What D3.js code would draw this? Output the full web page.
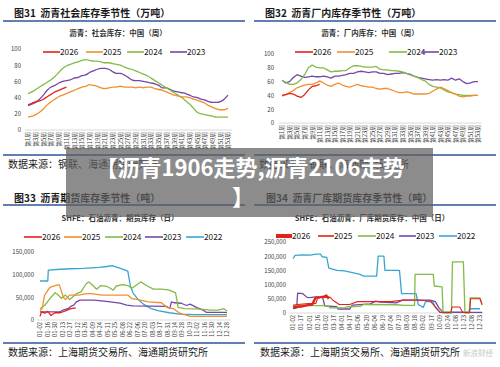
<!DOCTYPE html>
<html>
<head>
<meta charset="utf-8">
<script src="https://cdn.jsdelivr.net/npm/d3@7/dist/d3.min.js"></script>
<style>
    body { margin: 0; background: #fff; }
    text { font-family: "Noto Sans CJK SC", "Noto Sans", sans-serif; }
</style>
</head>
<body>
<script>
    // ---- DATA ----
    // 图31 社会库存（万吨），按周
    var socYears = ["2026", "2025", "2024", "2023"];
    var soc2026 = [31, 33, 35, 36, 38, 41, 44, 47, 49, 51, 53];
    var soc2025 = [16, 17, 19, 22, 26, 31, 35, 38, 41, 43, 45, 47, 49, 51, 53, 54, 56, 55, 54, 52, 51, 52, 53, 53, 54, 53, 53, 53, 52, 53, 52, 53, 53, 51, 50, 49, 47, 45, 43, 42, 41, 41, 40, 38, 37, 35, 33, 30, 28, 26, 25, 25, 27];
    var soc2024 = [45, 47, 50, 53, 56, 59, 62, 66, 71, 76, 79, 81, 83, 84, 86, 87, 86, 85, 85, 84, 83, 83, 82, 81, 80, 78, 76, 75, 73, 71, 69, 67, 64, 61, 58, 55, 52, 49, 46, 43, 40, 36, 32, 27, 22, 20, 19, 18, 17, 16, 16, 16, 16];
    var soc2023 = [30, 32, 34, 38, 43, 49, 53, 55, 58, 60, 61, 62, 64, 65, 67, 68, 71, 73, 75, 76, 76, 75, 72, 70, 70, 68, 65, 62, 61, 61, 60, 59, 58, 57, 55, 52, 52, 50, 48, 47, 46, 45, 43, 41, 40, 38, 37, 35, 34, 34, 35, 38, 43];

    // 图32 厂内库存（万吨），按周
    var pl2026 = [40, 41, 43, 42, 39, 37, 41, 48, 53, 54, 56];
    var pl2025 = [39, 41, 44, 47, 51, 53, 55, 56, 56, 58, 61, 58, 55, 53, 56, 58, 55, 53, 52, 54, 56, 54, 53, 52, 52, 50, 49, 50, 50, 48, 46, 44, 44, 45, 44, 42, 42, 42, 42, 43, 46, 49, 52, 50, 47, 44, 42, 39, 38, 39, 39, 40, 40];
    var pl2024 = [62, 59, 56, 56, 58, 63, 70, 80, 84, 81, 80, 80, 77, 74, 75, 75, 76, 76, 80, 83, 83, 82, 81, 81, 81, 82, 78, 77, 77, 76, 76, 75, 74, 72, 71, 68, 66, 63, 61, 56, 53, 52, 51, 48, 45, 44, 42, 41, 40, 40, 40, 40, 40];
    var pl2023 = [62, 58, 60, 66, 70, 68, 66, 67, 68, 67, 67, 68, 67, 65, 68, 68, 69, 70, 72, 72, 74, 75, 74, 73, 74, 74, 72, 72, 70, 71, 72, 72, 73, 72, 70, 68, 66, 65, 64, 63, 62, 63, 62, 63, 62, 65, 62, 64, 60, 57, 58, 60, 60];

    var weekLabels = ["第1周", "第3周", "第5周", "第7周", "第9周", "第11周", "第13周", "第15周", "第17周", "第19周", "第21周", "第23周", "第25周", "第27周",
        "第29周", "第31周", "第33周", "第35周", "第37周", "第39周", "第41周", "第43周", "第45周", "第47周", "第49周", "第51周", "第53周"];

    // 图33 期货库存（吨），[年内第几天, 值]
    var fut2026 = [[1, 8000], [4, 18000], [10, 15000], [16, 19000], [22, 10000], [30, 16000], [40, 16000], [50, 20000], [58, 24000], [65, 26000], [70, 26000]];
    var fut2025 = [[1, 20000], [5, 25000], [10, 55000], [20, 72000], [30, 76000], [38, 78000], [46, 50000], [50, 45000], [58, 55000], [75, 55000], [90, 58000], [100, 58000],
        [120, 55000], [140, 55000], [170, 55000], [178, 47000], [190, 45000], [210, 40000], [235, 38000], [245, 28000], [258, 25000], [270, 15000], [290, 8000], [361, 8000]];
    var fut2024 = [[1, 25000], [10, 32000], [20, 47000], [30, 60000], [36, 55000], [42, 48000], [50, 55000], [58, 45000], [65, 52000], [71, 58000], [80, 62000], [90, 80000],
        [95, 84000], [103, 76000], [110, 68000], [118, 76000], [130, 74000], [136, 70000], [142, 66000], [148, 75000], [160, 78000], [170, 76000], [178, 70000], [190, 80000],
        [195, 84000], [206, 76000], [219, 68000], [235, 68000], [250, 66000], [262, 60000], [267, 28000], [280, 25000], [310, 24000], [330, 22000], [345, 22000], [355, 25000], [361, 20000]];
    var fut2023 = [[1, 18000], [40, 18000], [45, 22000], [55, 25000], [60, 30000], [66, 33000], [71, 40000], [78, 44000], [105, 44000], [120, 42000], [136, 40000], [155, 37000],
        [168, 33000], [180, 31000], [244, 30000], [251, 26000], [254, 40000], [260, 38000], [273, 37000], [283, 32000], [290, 35000], [302, 28000], [315, 22000], [321, 17000], [361, 17000]];
    var fut2022 = [[1, 86000], [16, 86000], [17, 110000], [40, 112000], [60, 113000], [85, 114000], [100, 115000], [115, 116000], [130, 118000], [140, 120000], [150, 116000],
        [160, 112000], [170, 108000], [175, 75000], [180, 60000], [190, 45000], [200, 35000], [215, 25000], [230, 20000], [250, 16000], [270, 13000], [300, 12000], [361, 12000]];
    var futLabels = ["01-02", "01-16", "01-30", "02-13", "02-27", "03-12", "03-26", "04-09", "04-24", "05-11", "05-25", "06-08", "06-22", "07-06", "07-20", "08-03", "08-17",
        "08-31", "09-14", "09-28", "10-19", "11-02", "11-16", "11-30", "12-14", "12-28"];

    // 图34 厂库期货库存（吨）
    var fac2026 = [[1, 20000], [20, 24000], [30, 28000], [38, 30000], [42, 45000], [45, 55000], [55, 56000], [62, 58000], [65, 62000], [68, 55000], [70, 50000]];
    var fac2025 = [[1, 27000], [10, 30000], [30, 33000], [45, 34000], [48, 50000], [55, 56000], [72, 56000], [78, 45000], [90, 30000], [110, 30000], [125, 40000], [190, 40000],
        [214, 46000], [240, 46000], [265, 42000], [270, 32000], [284, 2000], [305, 2000], [307, 21000], [322, 21000], [328, 2000], [341, 2000], [343, 50000], [361, 50000], [365, 30000]];
    var fac2024 = [[1, 27000], [50, 26000], [70, 25000], [72, 18000], [100, 18000], [105, 22000], [130, 23000], [137, 30000], [200, 29000], [215, 27000], [235, 27000],
        [236, 136000], [271, 136000], [273, 95000], [288, 92000], [290, 0], [306, 0], [308, 180000], [329, 180000], [332, 0], [340, 0], [342, 53000], [361, 53000], [365, 28000]];
    var fac2023 = [[1, 15000], [8, 18000], [10, 70000], [20, 68000], [28, 55000], [34, 54000], [40, 56000], [58, 56000], [62, 25000], [85, 22000], [88, 14000], [110, 14000],
        [115, 28000], [150, 32000], [160, 42000], [170, 38000], [200, 36000], [212, 45000], [265, 45000], [275, 40000], [282, 18000], [290, 2000], [365, 2000]];
    var fac2022 = [[1, 191000], [5, 203000], [20, 205000], [34, 204000], [45, 207000], [54, 207000], [57, 198000], [66, 196000], [70, 158000], [86, 150000], [100, 148000],
        [111, 144000], [120, 140000], [130, 136000], [137, 130000], [162, 130000], [165, 200000], [176, 200000], [178, 150000], [206, 150000], [210, 68000], [238, 68000],
        [242, 30000], [252, 20000], [256, 40000], [270, 40000], [275, 20000], [284, 3000], [340, 3000], [342, 15000], [361, 15000]];
    var facLabels = ["01-02", "01-17", "02-01", "02-16", "03-02", "03-17", "04-01", "04-17", "05-06", "05-20", "06-04", "06-19", "07-04", "07-19", "08-03", "08-18",
        "09-02", "09-17", "10-09", "10-24", "11-08", "11-23", "12-08", "12-23"];

    var RED = "#e3211c", ORANGE = "#f28e2e", GREEN = "#82bb45", PURPLE = "#7548a6", CYAN = "#37a5d2";

    function weekly(arr) {
        return arr.map(function (v, i) { return [i + 1, v]; });
    }

    // ---- SVG ----
    var svg = d3.select('body').append('svg')
            .attr('width', 500)
            .attr('height', 367)
            .style('background', '#fff');

    function drawPanel(p) {
        var g = svg.append('g');

        // title + blue rules
        g.append('text').attr('x', p.titleX).attr('y', p.titleY)
                .attr('font-size', 10).attr('font-weight', 'bold').attr('fill', '#1a1a1a')
                .attr('xml:space', 'preserve')
                .text(p.title);
        g.append('line').attr('x1', p.ruleX1).attr('x2', p.ruleX2)
                .attr('y1', p.ruleTop).attr('y2', p.ruleTop)
                .attr('stroke', '#2f5597').attr('stroke-width', 1.5);
        g.append('line').attr('x1', p.ruleX1).attr('x2', p.ruleX2)
                .attr('y1', p.ruleBottom).attr('y2', p.ruleBottom)
                .attr('stroke', '#2f5597').attr('stroke-width', 1.5);
        g.append('text').attr('x', p.subX).attr('y', p.subY)
                .attr('text-anchor', 'middle')
                .attr('font-size', 7.5).attr('font-weight', 'bold').attr('fill', '#333')
                .text(p.subtitle);
        g.append('text').attr('x', p.titleX - 6).attr('y', p.ruleBottom + 13)
                .attr('font-size', 10).attr('fill', '#1a1a1a')
                .text(p.source);

        // y axis (labels only)
        var yAxis = d3.axisLeft(p.y).tickValues(p.yTicks).tickSize(0).tickPadding(0);
        var ya = g.append('g').attr('transform', 'translate(' + p.yLabelX + ',0)').call(yAxis);
        ya.select('.domain').remove();
        ya.selectAll('text').attr('font-size', 6).attr('fill', '#404040');

        // x axis line
        var x0 = p.x.range()[0], x1 = p.x.range()[1];
        g.append('line').attr('x1', x0 - 3).attr('x2', x1 + 4)
                .attr('y1', p.y(0)).attr('y2', p.y(0))
                .attr('stroke', '#d9d9d9').attr('stroke-width', 1);

        // x tick labels (rotated)
        var xa = g.append('g').attr('transform', 'translate(0,' + (p.y(0) + 2) + ')')
                .call(d3.axisBottom(p.xLab).tickSize(0).tickPadding(0));
        xa.select('.domain').remove();
        xa.selectAll('text')
                .attr('font-size', 5.8).attr('fill', '#404040')
                .attr('text-anchor', 'end')
                .attr('dy', '0.32em').attr('y', 0).attr('x', 0)
                .attr('transform', 'rotate(-90)');

        // series
        var line = d3.line()
                .x(function (d) { return p.x(d[0]); })
                .y(function (d) { return p.y(d[1]); })
                .curve(p.curve || d3.curveLinear);
        p.series.forEach(function (s) {
            g.append('path').datum(s.data)
                    .attr('fill', 'none')
                    .attr('stroke', s.color)
                    .attr('stroke-width', s.width || 1.3)
                    .attr('stroke-linejoin', 'round')
                    .attr('d', line);
        });

        // legend
        p.legend.forEach(function (l) {
            g.append('line').attr('x1', l.x).attr('x2', l.x + l.len)
                    .attr('y1', p.legendY).attr('y2', p.legendY)
                    .attr('stroke', l.color).attr('stroke-width', l.width || 1.6);
            g.append('text').attr('x', l.x + l.len).attr('y', p.legendY + 3)
                    .attr('font-size', 8.3).attr('fill', '#1a1a1a')
                    .text(l.label);
        });
    }

    // panel 1
    drawPanel({
        title: '图31  沥青社会库存季节性（万吨）', titleX: 14, titleY: 17,
        ruleX1: 3, ruleX2: 245, ruleTop: 21, ruleBottom: 155,
        subtitle: '沥青：社会库存：中国（周）', subX: 118, subY: 36,
        source: '数据来源：钢联、海通期货研究所',
        x: d3.scaleLinear().domain([1, 53]).range([28, 228]),
        xLab: d3.scalePoint().domain(weekLabels).range([28, 228]),
        y: d3.scaleLinear().domain([0, 100]).range([130, 49]),
        yTicks: [0, 20, 40, 60, 80, 100], yLabelX: 21,
        curve: d3.curveMonotoneX,
        series: [
            {data: weekly(soc2023), color: PURPLE},
            {data: weekly(soc2024), color: GREEN},
            {data: weekly(soc2025), color: ORANGE},
            {data: weekly(soc2026), color: RED}
        ],
        legendY: 52,
        legend: [
            {x: 43, len: 17, color: RED, label: socYears[0]},
            {x: 86, len: 17, color: ORANGE, label: socYears[1]},
            {x: 127, len: 17, color: GREEN, label: socYears[2]},
            {x: 170, len: 17, color: PURPLE, label: socYears[3]}
        ]
    });

    // panel 2
    drawPanel({
        title: '图32  沥青厂内库存季节性（万吨）', titleX: 265, titleY: 17,
        ruleX1: 254, ruleX2: 496, ruleTop: 21, ruleBottom: 155,
        subtitle: '沥青：厂内库存：中国（周）', subX: 370, subY: 36,
        source: '数据来源：钢联、海通期货研究所',
        x: d3.scaleLinear().domain([1, 53]).range([282, 478]),
        xLab: d3.scalePoint().domain(weekLabels).range([282, 478]),
        y: d3.scaleLinear().domain([0, 100]).range([123, 54]),
        yTicks: [0, 20, 40, 60, 80, 100], yLabelX: 274,
        series: [
            {data: weekly(pl2023), color: PURPLE},
            {data: weekly(pl2024), color: GREEN},
            {data: weekly(pl2025), color: ORANGE},
            {data: weekly(pl2026), color: RED}
        ],
        legendY: 52,
        legend: [
            {x: 295, len: 18, color: RED, label: socYears[0]},
            {x: 337, len: 18, color: ORANGE, label: socYears[1]},
            {x: 389, len: 18, color: GREEN, label: socYears[2]},
            {x: 422, len: 17, color: PURPLE, label: socYears[3]}
        ]
    });

    // panel 3
    drawPanel({
        title: '图33  沥青期货库存季节性（吨）', titleX: 14, titleY: 202,
        ruleX1: 3, ruleX2: 245, ruleTop: 205, ruleBottom: 343,
        subtitle: 'SHFE：石油沥青：期货库存（日）', subX: 120, subY: 221,
        source: '数据来源：上海期货交易所、海通期货研究所',
        x: d3.scaleLinear().domain([1, 361]).range([40, 227]),
        xLab: d3.scalePoint().domain(futLabels).range([40, 227]),
        y: d3.scaleLinear().domain([0, 150000]).range([320, 252]),
        yTicks: [0, 50000, 100000, 150000], yLabelX: 34,
        series: [
            {data: fut2022, color: CYAN},
            {data: fut2023, color: PURPLE},
            {data: fut2024, color: GREEN},
            {data: fut2025, color: ORANGE},
            {data: fut2026, color: RED}
        ],
        legendY: 237,
        legend: [
            {x: 24, len: 18, color: RED, label: '2026'},
            {x: 64, len: 18, color: ORANGE, label: '2025'},
            {x: 105, len: 18, color: GREEN, label: '2024'},
            {x: 145, len: 18, color: PURPLE, label: '2023'},
            {x: 186, len: 18, color: CYAN, label: '2022'}
        ]
    });

    // panel 4
    drawPanel({
        title: '图34  沥青厂库期货库存季节性（吨）', titleX: 266, titleY: 202,
        ruleX1: 254, ruleX2: 496, ruleTop: 205, ruleBottom: 343,
        subtitle: 'SHFE：石油沥青：厂库期货库存：中国（日）', subX: 372, subY: 221,
        source: '数据来源：上海期货交易所、海通期货研究所',
        x: d3.scaleLinear().domain([1, 361]).range([293, 480]),
        xLab: d3.scalePoint().domain(facLabels).range([293, 480]),
        y: d3.scaleLinear().domain([0, 250000]).range([313, 242]),
        yTicks: [0, 50000, 100000, 150000, 200000, 250000], yLabelX: 286,
        series: [
            {data: fac2022, color: CYAN},
            {data: fac2023, color: PURPLE},
            {data: fac2024, color: GREEN},
            {data: fac2025, color: RED, width: 1.1},
            {data: fac2026, color: RED, width: 2.4}
        ],
        legendY: 236,
        legend: [
            {x: 276, len: 16, color: RED, label: '2026', width: 4},
            {x: 318, len: 16, color: RED, label: '2025'},
            {x: 358, len: 18, color: GREEN, label: '2024'},
            {x: 399, len: 17, color: PURPLE, label: '2023'},
            {x: 439, len: 18, color: CYAN, label: '2022'}
        ]
    });

    // faint logo text at bottom right
    svg.append('text').attr('x', 463).attr('y', 356)
            .attr('font-size', 7.5).attr('fill', '#c8c8c8')
            .text('新浪财经');

    // ---- headline overlay ----
    svg.append('rect')
            .attr('x', 66).attr('y', 148)
            .attr('width', 367).attr('height', 69)
            .attr('fill', '#5f5f5f').attr('opacity', 0.72);
    svg.append('text').attr('x', 250).attr('y', 176)
            .attr('text-anchor', 'middle')
            .attr('font-size', 22).attr('font-weight', 'bold').attr('fill', '#fff')
            .text('【沥青1906走势,沥青2106走势');
    svg.append('text').attr('x', 243).attr('y', 205)
            .attr('text-anchor', 'middle')
            .attr('font-size', 22).attr('font-weight', 'bold').attr('fill', '#fff')
            .text('】');
</script>
</body>
</html>
